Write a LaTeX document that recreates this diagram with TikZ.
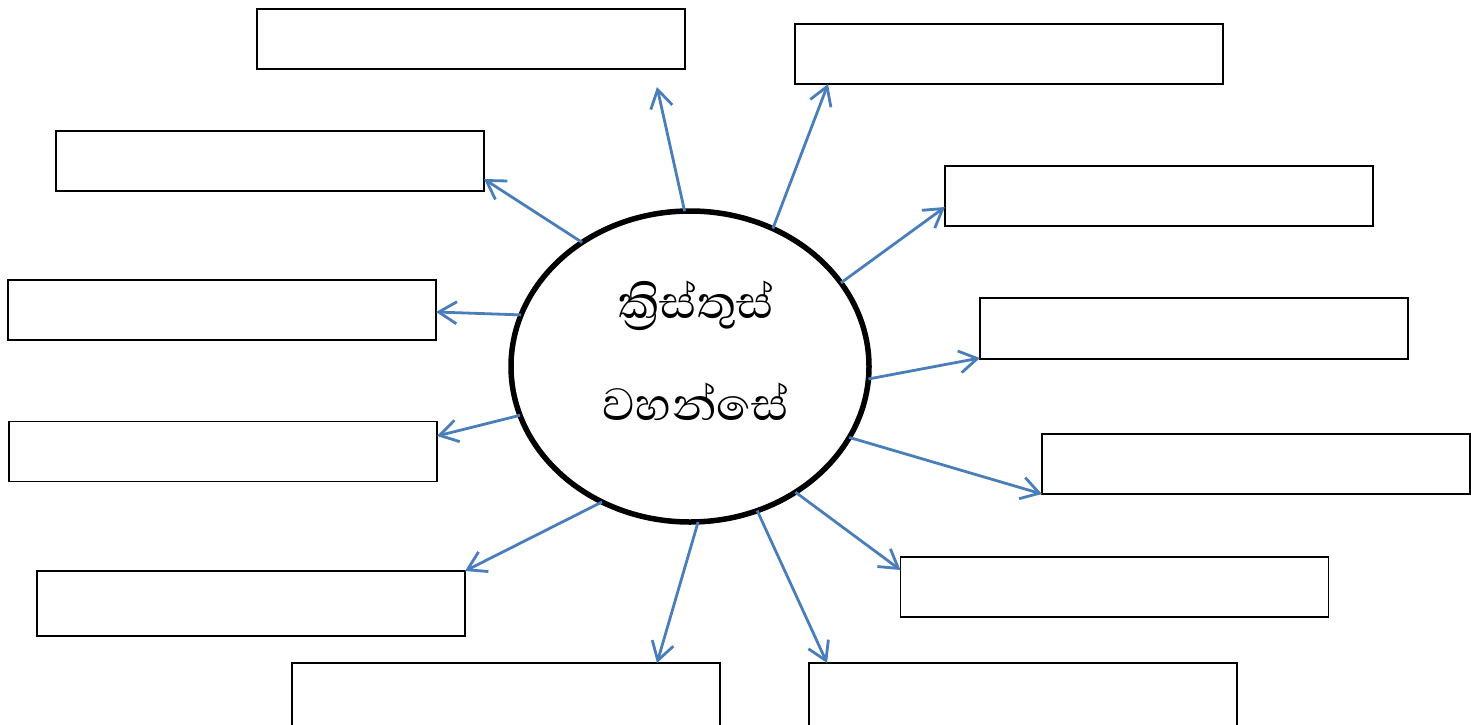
\documentclass[tikz,border=0pt]{standalone}
\usepackage{fontspec}
\newfontfamily\sinhalafont[Script=Sinhala]{Abhaya Libre}
\usetikzlibrary{arrows.meta,shapes.geometric}
\definecolor{spokeblue}{RGB}{74,126,187}

\begin{document}
\begin{tikzpicture}[x=0.5pt, y=-0.5pt,
    answer/.style={draw, line width=0.65pt,
        minimum width=214pt, minimum height=30pt,
        inner sep=0pt, outer sep=0pt},
    spoke/.style={draw=spokeblue, line width=1.4pt,
        -{Straight Barb[length=9pt,width=11pt]}}]
    \useasboundingbox (0,0) rectangle (1471,724);
    \clip (0,0) rectangle (1471,724);
    % The centre
    \node[ellipse,
          draw,
          line width=2.75pt,
          minimum width=179pt,
          minimum height=155.5pt,
          inner sep=0pt,
          outer sep=0pt] (christ) at (690,366.5) {};
    \node[align=center,
          inner sep=0pt,
          font=\sinhalafont\fontsize{29}{51}\selectfont] (name) at (696,351)
          {ක්‍රිස්තුස්\\වහන්සේ};
    % Add the empty boxes
    \node[answer] (box1) at (471,39) {};
    \node[answer] (box2) at (1009,54) {};
    \node[answer] (box3) at (270,161) {};
    \node[answer] (box4) at (1159,196) {};
    \node[answer] (box5) at (222,310) {};
    \node[answer, minimum height=30.5pt] (box6) at (1194,328.5) {};
    \node[answer] (box7) at (223,451.5) {};
    \node[answer] (box8) at (1256,464) {};
    \node[answer, minimum height=32.5pt] (box9) at (251,603.5) {};
    \node[answer] (box10) at (1114.5,587) {};
    \node[answer, minimum height=40pt] (box11) at (506,703) {};
    \node[answer, minimum height=40pt] (box12) at (1023,703) {};
    \coordinate (tip1) at (657,87);
    % Connect the centre with the boxes
    \draw[spoke] (christ.92.2) -- (tip1);
    \draw[spoke] (christ.59.1) -- ([xshift=16.5pt]box2.south west);
    \draw[spoke] (christ.131.3) -- ([yshift=-9pt]box3.east);
    \draw[spoke] (christ.29.8) -- ([yshift=-5.5pt]box4.west);
    \draw[spoke] (christ.163.7) -- ([yshift=-1pt]box5.east);
    \draw[spoke] (christ.-4) -- ([yshift=0.5pt]box6.south west);
    \draw[spoke] (christ.196.9) -- ([yshift=7.75pt]box7.east);
    \draw[spoke] (christ.-24.2) -- (box8.south west);
    \draw[spoke] (christ.237.9) -- (box9.north east);
    \draw[spoke] (christ.-50.7) -- ([yshift=8.5pt]box10.west);
    \draw[spoke] (christ.-87.4) -- ([xshift=75.5pt]box11.north);
    \draw[spoke] (christ.-65.3) -- ([xshift=9pt]box12.north west);
\end{tikzpicture}
\end{document}
